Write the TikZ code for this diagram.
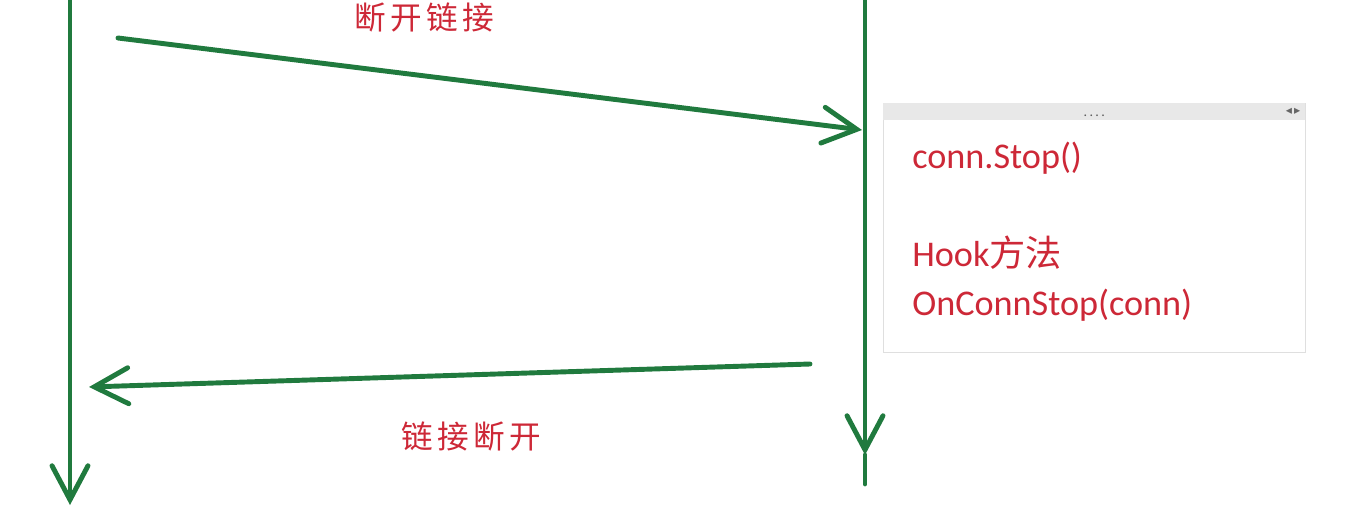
\documentclass[tikz,border=0pt]{standalone}
\usepackage{fontspec}
\setmainfont{Carlito}
\newfontfamily\cjk{Noto Sans CJK SC}
\newfontfamily\cjklbl[LetterSpace=14]{Noto Sans CJK SC}
\newfontfamily\symfont{DejaVu Sans}
\usepackage{xcolor}
\usepackage{tikz}
\usetikzlibrary{arrows.meta, positioning}

\definecolor{lifegreen}{RGB}{32,122,62}
\definecolor{notered}{RGB}{205,40,55}

\begin{document}
\begin{tikzpicture}[
  x=0.02cm, y=-0.02cm,
  life/.style={draw=lifegreen, line width=2.8pt, line cap=round},
  msg/.style={life, -{Straight Barb[length=0.68cm, width=0.72cm, line cap=round]}},
  lbl/.style={text=notered, font=\cjklbl\fontsize{18}{20}\selectfont, inner sep=0pt},
  code/.style={text=notered, font=\fontsize{20.6}{24}\selectfont, anchor=base west, inner sep=0pt},
  stopbox/.style={draw=gray!25, fill=white, minimum width=8.44cm, minimum height=4.98cm,
                  inner sep=0pt, anchor=north west}
]
  \useasboundingbox (0,0) rectangle (1370,514);

  % lifelines
  \coordinate (ltop) at (70,0);
  \coordinate (lend) at (70,505);
  \coordinate (rtop) at (865,0);
  \coordinate (rtip) at (865,455);
  \coordinate (rend) at (865,484);
  \draw[msg] (ltop) -- (lend);
  \draw[msg] (rtop) -- (rtip);
  \draw[life] (rtip) -- (rend);

  % disconnect request
  \coordinate (reqstart) at (118,38);
  \coordinate (reqend) at (862,130);
  \draw[msg] (reqstart) -- (reqend);
  \node[lbl] (reqlbl) at (424,18) {断开链接};

  % disconnect reply
  \coordinate (repstart) at (810,364);
  \coordinate (repend) at (89,387);
  \draw[msg] (repstart) -- (repend);
  \node[lbl] (replbl) at (471,437) {链接断开};

  % note box
  \node[stopbox] (note) at (883,103) {};
  \node[fill=gray!18, minimum width=8.44cm, minimum height=0.34cm, inner sep=0pt,
        anchor=north] (bar) at (note.north) {};
  \node[font=\footnotesize, text=gray!70!black, inner sep=0pt] (grip) at ([yshift=-2pt]bar.center) {.\,.\,.\,.};
  \node[font=\symfont\scriptsize, text=gray!80!black, inner sep=0pt, anchor=east]
        (arrows) at ([xshift=-0.1cm]bar.east) {◂\,▸};
  \node[code] (stop) at (912,168) {conn.Stop()};
  \node[code] (hook) at (912,266) {Hook{\cjk 方法}};
  \node[code] (onstop) at (912,315) {OnConnStop(conn)};
\end{tikzpicture}
\end{document}
